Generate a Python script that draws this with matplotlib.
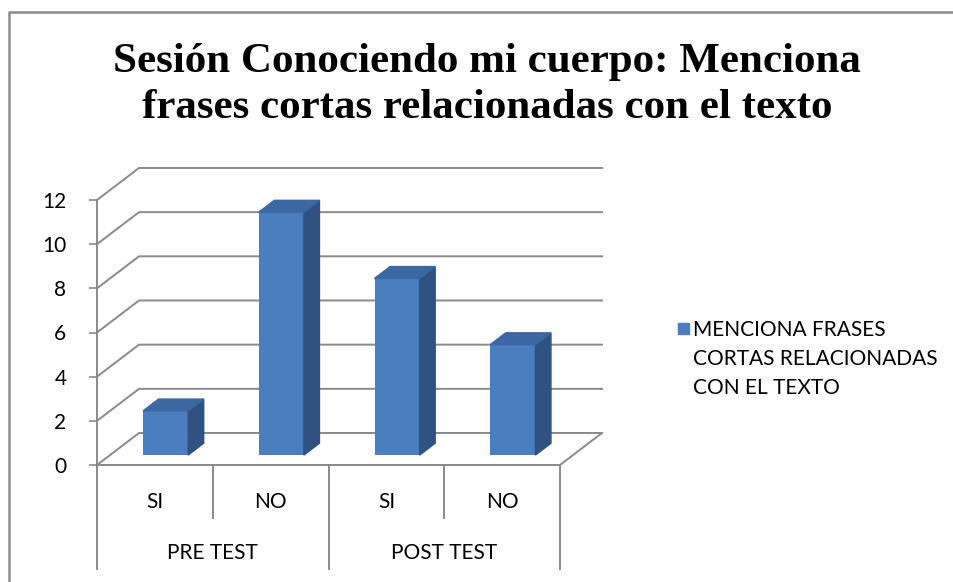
import numpy as np
import matplotlib.pyplot as plt
from matplotlib.patches import Polygon, Rectangle

# datos del grafico
title = 'Sesión Conociendo mi cuerpo: Menciona\nfrases cortas relacionadas con el texto'
groups = ['PRE TEST', 'POST TEST']
answers = ['SI', 'NO', 'SI', 'NO']
values = [2, 11, 8, 5]
series_label = 'MENCIONA FRASES\nCORTAS RELACIONADAS\nCON EL TEXTO'
yticks = [0, 2, 4, 6, 8, 10, 12]

W, H = 954, 582
# desplazamiento de profundidad (falso 3D), en unidades de datos
DX = 0.363
DY = 1.45
T0, T1 = 0.31, 0.68
BAR_W = 0.39

front = '#4a7ebf'
side = '#2f5282'
top = '#3c67a3'
grid_c = '#8a8a8a'
label_font = 'Lato'


def draw():
    fig = plt.figure(figsize=(W / 100, H / 100), dpi=100)
    # area frontal del grafico en pixeles
    left, right, y0, y12 = 97, 560, 465, 200
    ax = fig.add_axes([left / W, (H - y0) / H, (right - left) / W, (y0 - y12) / H])
    ax.set_xlim(-0.5, 3.5)
    ax.set_ylim(0, 12)
    ax.patch.set_alpha(0)

    # pared del fondo y pared lateral
    for v in yticks:
        ax.plot([-0.5, -0.5 + DX, 3.5 + DX], [v, v + DY, v + DY],
                color=grid_c, lw=1.4, clip_on=False, zorder=1)
    # borde del piso
    ax.plot([3.5, 3.5 + DX], [0, DY], color=grid_c, lw=1.4, clip_on=False, zorder=1)

    x = np.arange(len(values))
    xf = x + T0 * DX - 0.02
    ax.bar(xf, values, width=BAR_W, bottom=T0 * DY, color=front,
           edgecolor='none', zorder=3, clip_on=False)
    d = T1 - T0
    for xi, v in zip(xf, values):
        xr = xi + BAR_W / 2
        xl = xi - BAR_W / 2
        b = T0 * DY
        ax.add_patch(Polygon([(xr, b), (xr + d * DX, b + d * DY),
                              (xr + d * DX, b + v + d * DY), (xr, b + v)],
                             closed=True, color=side, zorder=3, clip_on=False))
        ax.add_patch(Polygon([(xl, b + v), (xr, b + v),
                              (xr + d * DX, b + v + d * DY), (xl + d * DX, b + v + d * DY)],
                             closed=True, color=top, zorder=3, clip_on=False))

    # ejes
    for s in ['top', 'right']:
        ax.spines[s].set_visible(False)
    for s in ['left', 'bottom']:
        ax.spines[s].set_color(grid_c)
        ax.spines[s].set_linewidth(1.4)
    ax.set_yticks(yticks)
    ax.tick_params(axis='y', length=6, width=1.2, color=grid_c, pad=16,
                   labelsize=15)
    for t in ax.get_yticklabels():
        t.set_fontfamily(label_font)
    ax.set_xticks([])

    # eje de categorias en dos niveles
    for i, lab in enumerate(answers):
        ax.text(i, -1.68, lab, ha='center', va='center', fontsize=15,
                family=label_font, clip_on=False)
    for i, lab in enumerate(groups):
        ax.text(2 * i + 0.5, -3.99, lab, ha='center', va='center', fontsize=15,
                family=label_font, clip_on=False)
    for xv in [-0.5, 0.5, 1.5, 2.5, 3.5]:
        low = -4.7 if xv in (-0.5, 1.5, 3.5) else -2.4
        ax.plot([xv, xv], [0, low], color=grid_c, lw=1.4, clip_on=False)

    # leyenda
    fig.patches.append(Rectangle((678 / W, 1 - 334 / H), 11 / W, 11 / H,
                                 transform=fig.transFigure, color=front))
    fig.text(693 / W, 1 - 320 / H, series_label, ha='left', va='top',
             fontsize=15, family=label_font, linespacing=1.55,
             transform=fig.transFigure)

    # titulo
    fig.text(487 / W, 1 - 85 / H, title, ha='center', va='center',
             fontsize=31, fontweight='bold', family='Liberation Serif',
             linespacing=1.27)

    # borde del grafico
    fig.add_artist(plt.Line2D([9 / W, 9 / W, 1.0], [0.0, 1 - 12 / H, 1 - 12 / H],
                              transform=fig.transFigure, color='#8c8c8c', lw=1.8))

    fig.savefig('out.png', dpi=100)


if __name__ == '__main__':
    draw()
